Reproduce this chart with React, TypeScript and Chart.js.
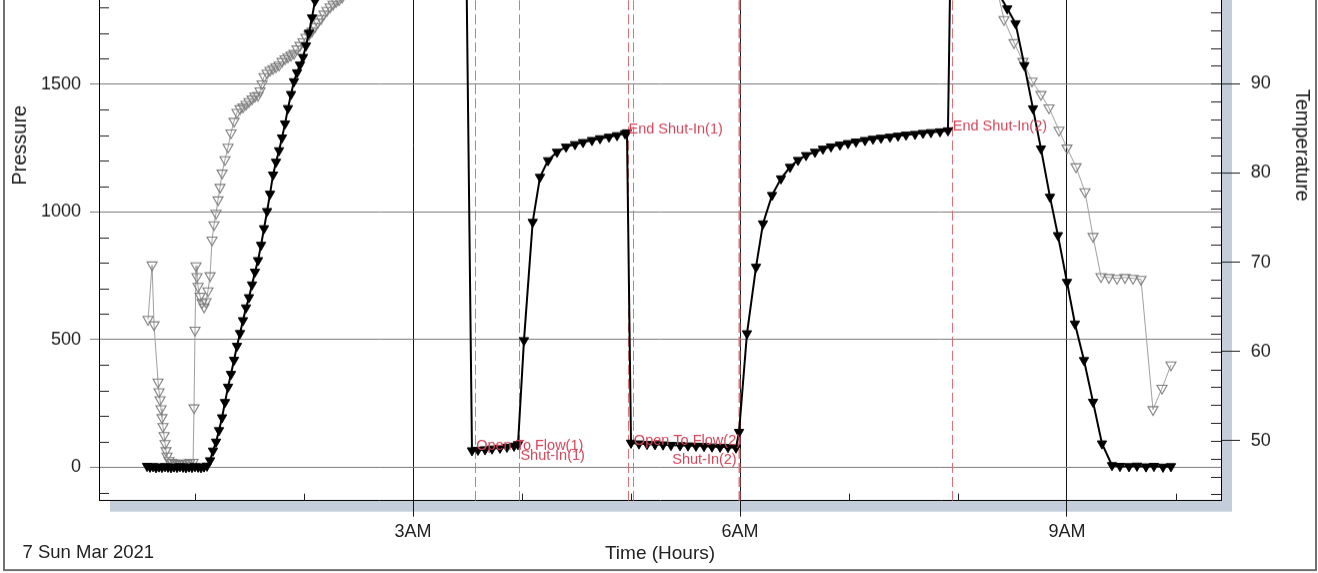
import { useEffect, useRef } from 'react';
import { Chart, registerables } from 'chart.js';

Chart.register(...registerables);

// ---------- data (hours after midnight, psi / degF) ----------
const runInTime = [
  0.560, 0.587, 0.615, 0.642, 0.670, 0.697, 0.725, 0.752, 0.780, 0.807, 0.835, 0.862, 0.890, 0.917, 0.945, 0.972, 1.000, 1.028, 1.055, 1.083, 1.110,
  1.138, 1.165, 1.193, 1.220, 1.248, 1.275, 1.303, 1.330, 1.358, 1.385, 1.413, 1.440, 1.468, 1.495, 1.523, 1.550, 1.578, 1.606, 1.633, 1.661,
  1.688, 1.716, 1.743, 1.771, 1.798, 1.826, 1.853, 1.881, 1.908, 1.936, 1.963, 1.991, 2.018, 2.046, 2.073, 2.101, 2.128, 2.165, 2.202, 2.239,
  2.400, 2.700, 3.000, 3.300, 3.478,
];
const runInPressure = [
  5, 2, 4, 0, 3, 1, 4, 2, 0, 3, 1, 4, 2, 0, 3, 1, 4, 2, 0, 3, 6,
  27, 65, 100, 145, 195, 255, 315, 365, 420, 475, 525, 575, 625, 665, 715, 765, 810, 870, 935, 1002,
  1070, 1145, 1195, 1240, 1290, 1345, 1405, 1460, 1510, 1545, 1575, 1605, 1650, 1700, 1760, 1825, 1880, 1950, 2020, 2080,
  2200, 2300, 2350, 2390, 2400,
];
const flow1Time = [3.541, 3.596, 3.661, 3.725, 3.798, 3.862, 3.927, 3.963];
const flow1Pressure = [66, 68, 70, 73, 76, 80, 84, 90];
const shutIn1Time = [4.018, 4.098, 4.165, 4.239, 4.321, 4.404, 4.486, 4.560, 4.642, 4.716, 4.798, 4.872, 4.945, 4.963];
const shutIn1Pressure = [497, 960, 1136, 1201, 1234, 1254, 1264, 1272, 1280, 1287, 1293, 1299, 1306, 1310];
const flow2Time = [5.000, 5.073, 5.147, 5.220, 5.294, 5.367, 5.450, 5.523, 5.596, 5.670, 5.743, 5.817, 5.890, 5.963];
const flow2Pressure = [96, 93, 91, 90, 89, 87, 86, 85, 84, 83, 81, 80, 79, 77];
const shutIn2Time = [
  5.991, 6.064, 6.147, 6.211, 6.294, 6.376, 6.459, 6.532, 6.606, 6.688, 6.761, 6.835, 6.917,
  6.991, 7.064, 7.147, 7.220, 7.294, 7.376, 7.450, 7.523, 7.606, 7.679, 7.752, 7.835, 7.908,
];
const shutIn2Pressure = [
  138, 524, 784, 954, 1065, 1130, 1175, 1202, 1221, 1234, 1246, 1255, 1262,
  1268, 1274, 1280, 1285, 1289, 1293, 1297, 1301, 1304, 1308, 1311, 1314, 1318,
];
const pullOutTime = [
  7.945, 8.050, 8.200, 8.350,
  8.452, 8.528, 8.609, 8.688, 8.761, 8.844, 8.917, 9.000, 9.073, 9.156,
  9.239, 9.321, 9.413, 9.486, 9.569, 9.642, 9.725, 9.798, 9.881, 9.954,
];
const pullOutPressure = [
  2390, 2360, 2250, 1870,
  1795, 1737, 1573, 1404, 1247, 1058, 908, 725, 562, 419,
  256, 93, 8, 5, 4, 6, 3, 5, 2, 4,
];

const tempTime = [
  0.569, 0.606, 0.624, 0.661, 0.670, 0.679, 0.688, 0.697, 0.706, 0.716, 0.725, 0.734, 0.743, 0.761, 0.789, 0.817, 0.844, 0.872, 0.899, 0.927,
  0.954, 0.982, 0.991, 1.000, 1.009, 1.018, 1.028, 1.046, 1.064, 1.083, 1.101, 1.119, 1.138, 1.156, 1.174, 1.193, 1.211, 1.229, 1.248, 1.275,
  1.303, 1.330, 1.358, 1.385, 1.413, 1.440, 1.468, 1.495, 1.523, 1.550, 1.578, 1.596, 1.615, 1.633, 1.661, 1.688, 1.716, 1.743, 1.771, 1.798,
  1.826, 1.853, 1.881, 1.908, 1.936, 1.963, 1.991, 2.018, 2.046, 2.073, 2.101, 2.128, 2.156, 2.183, 2.211, 2.239, 2.266, 2.294, 2.321, 2.349, 2.376,
  2.600, 3.000, 3.500, 4.000, 5.000, 6.000, 7.000, 7.900, 8.200, 8.350,
  8.422, 8.514, 8.596, 8.679, 8.761, 8.835, 8.927, 9.000, 9.083, 9.165,
  9.239, 9.312, 9.385, 9.459, 9.532, 9.606, 9.679, 9.789, 9.872, 9.954,
];
const tempValue = [
  63.6, 69.7, 63.0, 56.6, 55.5, 54.6, 53.6, 52.6, 51.6, 50.6, 49.7, 48.9, 48.3, 47.8, 47.6, 47.5, 47.4, 47.4, 47.5, 47.5,
  47.6, 47.6, 53.7, 62.4, 69.6, 68.4, 67.3, 66.2, 65.5, 65.0, 65.6, 66.8, 68.5, 72.5, 74.2, 75.5, 77.0, 78.4, 80.0, 81.5,
  82.9, 84.5, 85.8, 86.8, 87.2, 87.4, 87.7, 88.0, 88.3, 88.6, 88.7, 89.2, 90.0, 90.8, 91.2, 91.5, 91.7, 91.9, 92.1, 92.5,
  92.8, 93.0, 93.2, 93.4, 93.9, 94.3, 94.7, 95.2, 95.5, 95.9, 96.4, 96.9, 97.3, 97.8, 98.2, 98.6, 98.9, 99.2, 99.4, 99.7, 100.1,
  102.5, 105.0, 107.0, 108.5, 110.0, 111.0, 111.5, 111.5, 106.0, 101.0,
  97.2, 94.6, 92.5, 90.3, 88.8, 87.3, 84.8, 82.8, 80.7, 77.9,
  72.9, 68.4, 68.3, 68.2, 68.3, 68.2, 68.1, 53.5, 55.9, 58.5,
];

const eventTime = [3.570, 3.976, 4.968, 5.017, 5.988, 7.943];
const eventName = ['Open To Flow(1)', 'Shut-In(1)', 'End Shut-In(1)', 'Open To Flow(2)', 'Shut-In(2)', 'End Shut-In(2)'];
const eventLabelPressure = [86, 47, 1324, 103, 30, 1335];
const eventLabelAlign = ['left', 'left', 'left', 'left', 'right', 'left'];

const timeTicks = [3, 6, 9];
const pressureTicks = [0, 500, 1000, 1500, 2000, 2500];
const tempTicks = [50, 60, 70, 80, 90];
const dateText = '7 Sun Mar 2021';

// ---------- layout ----------
const TOP_PAD = 30; // chart-area top inside the canvas
const OFF = 209.6 + TOP_PAD; // part of the canvas above the visible window
const W = 1318;
const H = 573 + OFF;
const FONT = "'Liberation Sans', Arial, Helvetica, sans-serif";
const RED = '#d4465a';

const zip = (t: number[], v: number[]) => t.map((x, i) => ({ x, y: v[i] }));

const framePlugin = {
  id: 'framePlugin',
  beforeDraw(chart: any) {
    const { ctx, chartArea: a } = chart;
    ctx.save();
    ctx.fillStyle = '#ffffff';
    ctx.fillRect(0, 0, chart.width, chart.height);
    ctx.fillStyle = '#c4cedb';
    ctx.fillRect(a.left + 11, a.top + 11, a.right - a.left, a.bottom - a.top);
    ctx.fillStyle = '#ffffff';
    ctx.fillRect(a.left, a.top, a.right - a.left, a.bottom - a.top);
    ctx.restore();
  },
  beforeDatasetsDraw(chart: any) {
    const { ctx, chartArea: a, scales } = chart;
    const xs = scales.x, ys = scales.y, ts = scales.y1;
    ctx.save();
    // minor ticks
    ctx.strokeStyle = '#222';
    ctx.lineWidth = 1;
    ctx.beginPath();
    for (let h = 1; h <= 10; h++) {
      if (timeTicks.includes(h)) continue;
      const px = Math.round(xs.getPixelForValue(h)) + 0.5;
      ctx.moveTo(px, a.bottom);
      ctx.lineTo(px, a.bottom - 7);
    }
    for (let p = -100; p <= 2600; p += 100) {
      if (p % 500 === 0) continue;
      const py = Math.round(ys.getPixelForValue(p)) + 0.5;
      ctx.moveTo(a.left, py);
      ctx.lineTo(a.left + 10, py);
    }
    for (let d = 44; d <= 122; d += 2) {
      const py = Math.round(ts.getPixelForValue(d)) + 0.5;
      ctx.moveTo(a.right, py);
      ctx.lineTo(a.right - 10, py);
    }
    ctx.stroke();
    // event lines
    ctx.strokeStyle = 'rgba(222,105,110,0.95)';
    ctx.setLineDash([10, 4]);
    eventTime.forEach((t, i) => {
      const px = Math.round(xs.getPixelForValue(t)) + 0.5;
      ctx.lineWidth = i === 4 ? 2 : 1;
      ctx.beginPath();
      ctx.moveTo(px, a.top);
      ctx.lineTo(px, a.bottom);
      ctx.stroke();
    });
    ctx.restore();
  },
  afterDatasetsDraw(chart: any) {
    const { ctx, scales } = chart;
    const xs = scales.x, ys = scales.y;
    ctx.save();
    ctx.font = `14.5px ${FONT}`;
    ctx.fillStyle = RED;
    ctx.textBaseline = 'middle';
    eventName.forEach((name, i) => {
      const px = xs.getPixelForValue(eventTime[i]);
      const py = ys.getPixelForValue(eventLabelPressure[i]);
      ctx.textAlign = eventLabelAlign[i] as CanvasTextAlign;
      ctx.fillText(name, eventLabelAlign[i] === 'right' ? px - 2 : px + 1, py);
    });
    ctx.restore();
  },
  afterDraw(chart: any) {
    const { ctx } = chart;
    ctx.save();
    ctx.strokeStyle = '#707070';
    ctx.lineWidth = 2;
    ctx.strokeRect(4, 1, 1312, 568.5 + OFF);
    ctx.font = `18.5px ${FONT}`;
    ctx.fillStyle = '#222';
    ctx.textAlign = 'left';
    ctx.textBaseline = 'middle';
    ctx.fillText(dateText, 22.5, 552 + OFF);
    ctx.restore();
  },
};

export default function App() {
  const ref = useRef<HTMLCanvasElement | null>(null);

  useEffect(() => {
    if (!ref.current) return;
    const pressureData = [
      ...zip(runInTime, runInPressure),
      ...zip(flow1Time, flow1Pressure),
      ...zip(shutIn1Time, shutIn1Pressure),
      ...zip(flow2Time, flow2Pressure),
      ...zip(shutIn2Time, shutIn2Pressure),
      ...zip(pullOutTime, pullOutPressure),
    ];
    const tempData = zip(tempTime, tempValue);
    const tickFont = { family: FONT, size: 18 };

    const chart = new Chart(ref.current, {
      type: 'line',
      data: {
        datasets: [
          {
            label: 'Pressure',
            yAxisID: 'y',
            data: pressureData,
            borderColor: '#000',
            borderWidth: 2,
            pointStyle: 'triangle',
            pointRotation: 180,
            pointRadius: 5.4,
            pointBackgroundColor: '#000',
            pointBorderColor: '#000',
            pointBorderWidth: 1,
            tension: 0,
            order: 0,
          } as any,
          {
            label: 'Temperature',
            yAxisID: 'y1',
            data: tempData,
            borderColor: '#a0a0a0',
            borderWidth: 1,
            pointStyle: 'triangle',
            pointRotation: 180,
            pointRadius: 5.8,
            pointBackgroundColor: 'rgba(255,255,255,0)',
            pointBorderColor: '#7e7e7e',
            pointBorderWidth: 1.1,
            tension: 0,
            order: 1,
          } as any,
        ],
      },
      options: {
        animation: false,
        responsive: false,
        devicePixelRatio: 1,
        events: [],
        layout: { padding: { top: TOP_PAD, left: 0, right: 0, bottom: 0 } },
        plugins: { legend: { display: false }, tooltip: { enabled: false } },
        scales: {
          x: {
            type: 'linear',
            min: 0.119,
            max: 10.413,
            afterBuildTicks: (s: any) => {
              s.ticks = timeTicks.map((v) => ({ value: v }));
            },
            afterFit: (s: any) => {
              s.height = 72.3;
            },
            ticks: {
              callback: (v: any) => `${v}AM`,
              font: tickFont,
              color: '#222',
              padding: 4.5,
              maxRotation: 0,
              autoSkip: false,
            },
            grid: { color: '#161616', tickColor: '#161616', tickLength: 16, lineWidth: 1 },
            border: { color: '#000', width: 1 },
            title: {
              display: true,
              text: 'Time (Hours)',
              color: '#222',
              font: { family: FONT, size: 19 },
              padding: { top: 0, bottom: 8.3 },
            },
          },
          y: {
            type: 'linear',
            position: 'left',
            min: -130,
            max: 2650,
            afterBuildTicks: (s: any) => {
              s.ticks = pressureTicks.map((v) => ({ value: v }));
            },
            afterFit: (s: any) => {
              s.width = 99;
            },
            ticks: { font: tickFont, color: '#222', padding: 9, callback: (v: any) => String(v) },
            grid: { color: '#7c7c7c', tickColor: '#7c7c7c', tickLength: 9, lineWidth: 1 },
            border: { color: '#000', width: 1 },
            title: {
              display: true,
              text: 'Pressure',
              color: '#222',
              font: { family: FONT, size: 20 },
              padding: { top: 8.5, bottom: 0 },
            },
          },
          y1: {
            type: 'linear',
            position: 'right',
            min: 43.3,
            max: 122.9,
            afterBuildTicks: (s: any) => {
              s.ticks = tempTicks.map((v) => ({ value: v }));
            },
            afterFit: (s: any) => {
              s.width = 97;
            },
            ticks: { font: tickFont, color: '#222', padding: 10.7, callback: (v: any) => String(v) },
            grid: { drawOnChartArea: false, color: '#222', tickColor: '#222', tickLength: 19, lineWidth: 1 },
            border: { color: '#000', width: 1 },
            title: {
              display: true,
              text: 'Temperature',
              color: '#222',
              font: { family: FONT, size: 20 },
              padding: { top: 4, bottom: 0 },
            },
          },
        },
      } as any,
      plugins: [framePlugin],
    });
    return () => chart.destroy();
  }, []);

  return (
    <div style={{ position: 'fixed', left: 0, top: -OFF, width: W, height: H }}>
      <canvas ref={ref} width={W} height={H} style={{ display: 'block', width: W, height: H }} />
    </div>
  );
}
